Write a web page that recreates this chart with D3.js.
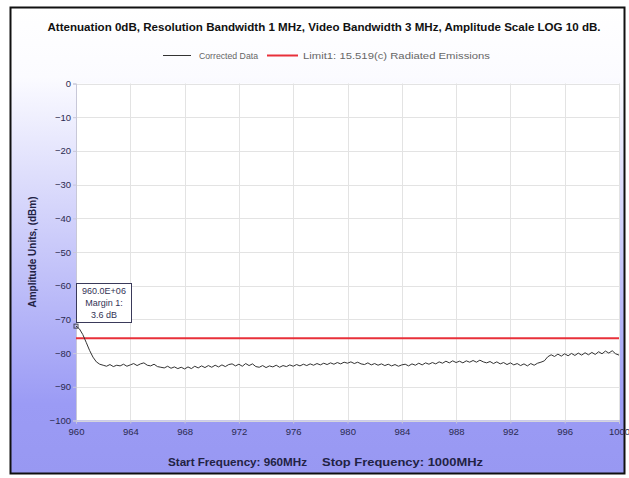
<!DOCTYPE html>
<html><head><meta charset="utf-8">
<script src="https://cdn.jsdelivr.net/npm/d3@7"></script>
<style>body{margin:0;background:#fff}svg{display:block}</style>
</head><body>
<script>
const titleText = "Attenuation 0dB, Resolution Bandwidth 1 MHz, Video Bandwidth 3 MHz, Amplitude Scale LOG 10 dB.";
const legendLabels = ["Corrected Data", "Limit1: 15.519(c) Radiated Emissions"];
const yTitle = "Amplitude Units, (dBm)";
const footerLabels = ["Start Frequency: 960MHz", "Stop Frequency: 1000MHz"];
const xTicks = [960,964,968,972,976,980,984,988,992,996,1000];
const yTicks = [0,-10,-20,-30,-40,-50,-60,-70,-80,-90,-100];
const freqStart = 960, freqStep = 0.25;
const amplitude = [
-72.0,-72.8,-74.5,-76.8,-79.2,-81.2,-82.6,-83.3,-83.6,-83.9,-83.4,-84.0,-83.6,-83.8,-83.3,-83.9,
-83.5,-83.1,-83.7,-83.2,-82.9,-83.6,-83.8,-83.3,-84.0,-84.2,-84.4,-83.9,-84.5,-84.1,-84.6,-84.2,
-84.7,-84.1,-84.6,-83.9,-84.4,-83.8,-84.3,-83.7,-84.2,-83.6,-84.1,-83.5,-84.0,-83.4,-83.2,-83.8,
-83.3,-83.9,-83.1,-83.7,-83.2,-84.0,-84.2,-83.7,-84.3,-83.8,-84.1,-83.6,-84.2,-83.7,-84.0,-83.5,
-83.9,-83.4,-83.8,-83.3,-83.7,-83.2,-83.6,-83.1,-83.5,-83.0,-83.4,-82.9,-83.3,-82.8,-83.2,-82.7,
-83.0,-82.6,-83.1,-82.7,-83.2,-83.4,-82.9,-83.5,-83.1,-83.6,-83.2,-83.7,-83.3,-83.8,-83.4,-83.9,
-83.5,-83.3,-83.8,-83.2,-83.6,-83.0,-83.5,-82.9,-83.3,-82.8,-83.2,-82.6,-83.0,-82.4,-82.9,-82.3,
-82.8,-82.4,-82.9,-82.3,-82.7,-82.2,-82.7,-82.1,-82.6,-82.9,-82.5,-83.1,-82.6,-83.2,-82.8,-83.4,
-82.9,-83.5,-83.1,-83.7,-83.2,-83.8,-83.1,-83.6,-83.0,-82.7,-82.3,-81.1,-80.5,-81.0,-80.3,-80.9,
-80.2,-80.8,-80.1,-80.7,-80.0,-80.6,-79.9,-80.5,-79.8,-80.4,-79.6,-80.2,-79.4,-80.0,-79.3,-80.2,
-80.6
];
const limitValue = -75.6;
const markerLines = ["960.0E+06", "Margin 1:", "3.6 dB"];

const W = 629, H = 478;
const svg = d3.select("body").append("svg").attr("width", W).attr("height", H);
const defs = svg.append("defs");
const grad = defs.append("linearGradient").attr("id","bg").attr("x1",0).attr("y1",0).attr("x2",0).attr("y2",1);
grad.append("stop").attr("offset","0").attr("stop-color","#ffffff");
grad.append("stop").attr("offset","0.15").attr("stop-color","#fbfbff");
grad.append("stop").attr("offset","0.85").attr("stop-color","#9b9bf5");
grad.append("stop").attr("offset","1").attr("stop-color","#9898f2");

svg.append("rect").attr("x",0).attr("y",0).attr("width",W).attr("height",H).attr("fill","#fff");
svg.append("rect").attr("x",10.5).attr("y",7.5).attr("width",614).attr("height",466)
  .attr("fill","url(#bg)").attr("stroke","#111").attr("stroke-width",2);

const m = {l:76, r:619, t:83.5, b:420.5};
const x = d3.scaleLinear().domain([960,1000]).range([m.l, m.r]);
const y = d3.scaleLinear().domain([-100,0]).range([m.b, m.t]);

svg.append("rect").attr("x",m.l).attr("y",m.t).attr("width",m.r-m.l).attr("height",m.b-m.t).attr("fill","#fff");

// grid
const g = svg.append("g");
g.selectAll(".gx").data(xTicks).join("line")
  .attr("x1",d=>Math.round(x(d))+0.5).attr("x2",d=>Math.round(x(d))+0.5)
  .attr("y1",m.t).attr("y2",m.b).attr("stroke","#e3e3e3");
g.selectAll(".gy").data(yTicks).join("line")
  .attr("y1",d=>Math.round(y(d))+0.5).attr("y2",d=>Math.round(y(d))+0.5)
  .attr("x1",m.l).attr("x2",m.r).attr("stroke","#e3e3e3");

// axes
const xAxis = d3.axisBottom(x).tickValues(xTicks).tickSize(3).tickPadding(5).tickFormat(d3.format("d"));
const yAxis = d3.axisLeft(y).tickValues(yTicks).tickSize(3).tickPadding(2).tickFormat(d3.format("d"));
const gx = svg.append("g").attr("transform",`translate(0,${m.b})`).call(xAxis);
const gy = svg.append("g").attr("transform",`translate(${m.l},0)`).call(yAxis);
[gx,gy].forEach(a=>{
  a.selectAll("path").attr("stroke","#c8c8d8");
  a.selectAll("line").attr("stroke","#c8c8d8");
  a.selectAll("text").attr("fill","#2a2a50").style("font-family","Liberation Sans, Arial, sans-serif").style("font-size","9.5px");
});

// limit line
svg.append("line").attr("x1",x(960)).attr("x2",x(1000)).attr("y1",y(limitValue)).attr("y2",y(limitValue))
  .attr("stroke","#e8303a").attr("stroke-width",2);

// data line
const line = d3.line().x((d,i)=>x(freqStart+i*freqStep)).y(d=>y(d));
svg.append("path").datum(amplitude).attr("d",line).attr("fill","none").attr("stroke","#333").attr("stroke-width",1);

// marker
svg.append("rect").attr("x",x(960)-2).attr("y",y(amplitude[0])-2).attr("width",4).attr("height",4)
  .attr("fill","none").attr("stroke","#445").attr("stroke-width",1);
const bx = x(960), by = 283;
svg.append("rect").attr("x",bx+0.5).attr("y",by+0.5).attr("width",55).attr("height",39)
  .attr("fill","#fff").attr("stroke","#3a3a5a").attr("stroke-width",1);
svg.selectAll(".mk").data(markerLines).join("text")
  .attr("x",bx+28).attr("y",(d,i)=>by+11+i*12).attr("text-anchor","middle")
  .attr("fill","#333355").style("font-family","Liberation Sans, Arial, sans-serif").style("font-size","9px").text(d=>d);

// title
const tf = "Liberation Sans, Arial, sans-serif";
svg.append("text").attr("x",324).attr("y",31).attr("text-anchor","middle")
  .attr("textLength",553).attr("lengthAdjust","spacingAndGlyphs")
  .style("font-family",tf).style("font-weight","bold").style("font-size","10px").attr("fill","#111").text(titleText);

// legend
const lg = svg.append("g");
lg.append("line").attr("x1",163).attr("x2",191).attr("y1",55.5).attr("y2",55.5).attr("stroke","#333").attr("stroke-width",1);
lg.append("text").attr("x",199).attr("y",59).attr("textLength",59).attr("lengthAdjust","spacingAndGlyphs")
  .style("font-family",tf).style("font-size","9px").attr("fill","#666").text(legendLabels[0]);
lg.append("line").attr("x1",267).attr("x2",298).attr("y1",55.5).attr("y2",55.5).attr("stroke","#e8303a").attr("stroke-width",2);
lg.append("text").attr("x",303).attr("y",59).attr("textLength",187).attr("lengthAdjust","spacingAndGlyphs")
  .style("font-family",tf).style("font-size","9px").attr("fill","#666").text(legendLabels[1]);

// y title
svg.append("text").attr("transform",`translate(36,${(m.t+m.b)/2}) rotate(-90)`).attr("text-anchor","middle")
  .style("font-family",tf).style("font-weight","bold").style("font-size","10px").attr("fill","#222244").text(yTitle);

// footer
svg.append("text").attr("x",168).attr("y",466).attr("textLength",139).attr("lengthAdjust","spacingAndGlyphs")
  .style("font-family",tf).style("font-weight","bold").style("font-size","10px").attr("fill","#222244").text(footerLabels[0]);
svg.append("text").attr("x",322).attr("y",466).attr("textLength",161).attr("lengthAdjust","spacingAndGlyphs")
  .style("font-family",tf).style("font-weight","bold").style("font-size","10px").attr("fill","#222244").text(footerLabels[1]);
</script>
</body></html>
